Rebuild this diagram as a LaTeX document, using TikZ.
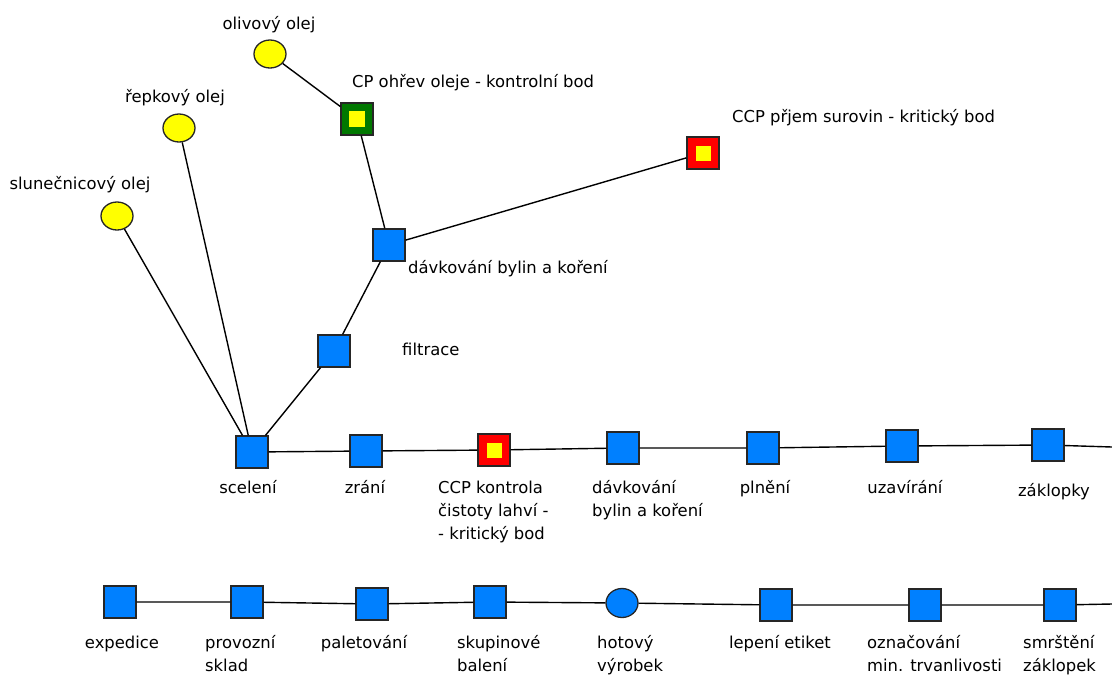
\documentclass[tikz,border=0pt]{standalone}
\usepackage{fontspec}
\setmainfont{DejaVu Sans}
\usetikzlibrary{shapes.geometric}
\definecolor{boxblue}{RGB}{0,128,255}
\definecolor{cpgreen}{RGB}{0,120,0}
\definecolor{ccpred}{RGB}{255,0,0}
\definecolor{ccpyellow}{RGB}{255,255,0}
\begin{document}
\begin{tikzpicture}[x=1pt,y=-1pt,
  every node/.style={font=\fontsize{16.4}{23}\selectfont},
  lbl/.style={inner sep=0pt},
  mlbl/.style={inner sep=0pt,align=left,anchor=north west},
  stepbox/.style={draw=black!85,line width=1.3pt,fill=boxblue,minimum size=32pt,inner sep=0pt},
  cpbox/.style={draw=black!85,line width=1.3pt,fill=cpgreen,minimum size=32pt,inner sep=0pt,
    path picture={\fill[ccpyellow] ([shift={(-8pt,-8pt)}]path picture bounding box.center) rectangle ([shift={(8pt,8pt)}]path picture bounding box.center);}},
  ccpbox/.style={cpbox,fill=ccpred,
    path picture={\fill[ccpyellow] ([shift={(-7.5pt,-7.5pt)}]path picture bounding box.center) rectangle ([shift={(7.5pt,7.5pt)}]path picture bounding box.center);}},
  oil/.style={ellipse,draw=black!85,line width=1.3pt,fill=ccpyellow,minimum width=32pt,minimum height=28pt,inner sep=0pt},
  product/.style={ellipse,draw=black!85,line width=1.3pt,fill=boxblue,minimum width=32pt,minimum height=29pt,inner sep=0pt},
  conn/.style={line width=1.4pt,black}]
\useasboundingbox (0,0) rectangle (1112,675);

% oils
\node[oil] (olive) at (270,54) {};
\node[oil] (rape) at (179,128) {};
\node[oil] (sun) at (117,216) {};
\node[lbl,anchor=base] (oliveL) at (269,29) {olivový olej};
\node[lbl,anchor=base] (rapeL) at (175,102) {řepkový olej};
\node[lbl,anchor=base] (sunL) at (80,189) {slunečnicový olej};

% upper branch
\node[cpbox] (cp) at (357,119) {};
\node[lbl,anchor=base west] (cpL) at (352,87) {CP ohřev oleje - kontrolní bod};
\node[ccpbox] (ccptop) at (703,153) {};
\node[lbl,anchor=base west] (ccptopL) at (732,122) {CCP přjem surovin - kritický bod};
\node[stepbox] (dav1) at (389,245) {};
\node[lbl,anchor=base west] (dav1L) at (408,273) {dávkování bylin a koření};
\node[stepbox] (filt) at (334,351) {};
\node[lbl,anchor=base west] (filtL) at (402,355) {filtrace};

% top row
\node[stepbox] (scel) at (252,452) {};
\node[stepbox] (zrani) at (366,451) {};
\node[ccpbox] (ccpk) at (494,450) {};
\node[stepbox] (dav2) at (623,448) {};
\node[stepbox] (plneni) at (763,448) {};
\node[stepbox] (uzav) at (902,446) {};
\node[stepbox] (zakl) at (1048,445) {};
\coordinate (rowend1) at (1112,447);

\node[lbl,anchor=base] (scelL) at (248,493) {scelení};
\node[lbl,anchor=base] (zraniL) at (365,493) {zrání};
\node[mlbl] (ccpkL) at (438,477) {\strut CCP kontrola\\čistoty lahví -\\- kritický bod};
\node[mlbl] (dav2L) at (592,477) {\strut dávkování\\bylin a koření};
\node[lbl,anchor=base] (plneniL) at (765,493) {plnění};
\node[lbl,anchor=base] (uzavL) at (905,493) {uzavírání};
\node[lbl,anchor=base] (zaklL) at (1054,496) {záklopky};

% bottom row
\node[stepbox] (exp) at (120,602) {};
\node[stepbox] (sklad) at (247,602) {};
\node[stepbox] (palet) at (372,604) {};
\node[stepbox] (skup) at (490,602) {};
\node[product] (hotovy) at (622,603) {};
\node[stepbox] (lepeni) at (776,605) {};
\node[stepbox] (oznac) at (925,605) {};
\node[stepbox] (smrs) at (1060,605) {};
\coordinate (rowend2) at (1112,604);

\node[lbl,anchor=base] (expL) at (122,648) {expedice};
\node[mlbl] (skladL) at (205,632) {\strut provozní\\sklad};
\node[lbl,anchor=base] (paletL) at (364,648) {paletování};
\node[mlbl] (skupL) at (457,632) {\strut skupinové\\balení};
\node[mlbl] (hotovyL) at (597,632) {\strut hotový\\výrobek};
\node[lbl,anchor=base] (lepeniL) at (780,648) {lepení etiket};
\node[mlbl] (oznacL) at (867,632) {\strut označování\\min. trvanlivosti};
\node[mlbl] (smrsL) at (1023,632) {\strut smrštění\\záklopek};

% connectors
\draw[conn] (olive) -- (cp);
\draw[conn] (cp) -- (dav1);
\draw[conn] (dav1) -- (ccptop);
\draw[conn] (dav1) -- (filt);
\draw[conn] (filt) -- (scel);
\draw[conn] (rape) -- (scel);
\draw[conn] (sun) -- (scel);
\draw[conn] (scel) -- (zrani) -- (ccpk) -- (dav2) -- (plneni) -- (uzav) -- (zakl) -- (rowend1);
\draw[conn] (exp) -- (sklad) -- (palet) -- (skup) -- (hotovy) -- (lepeni) -- (oznac) -- (smrs) -- (rowend2);
\end{tikzpicture}
\end{document}
